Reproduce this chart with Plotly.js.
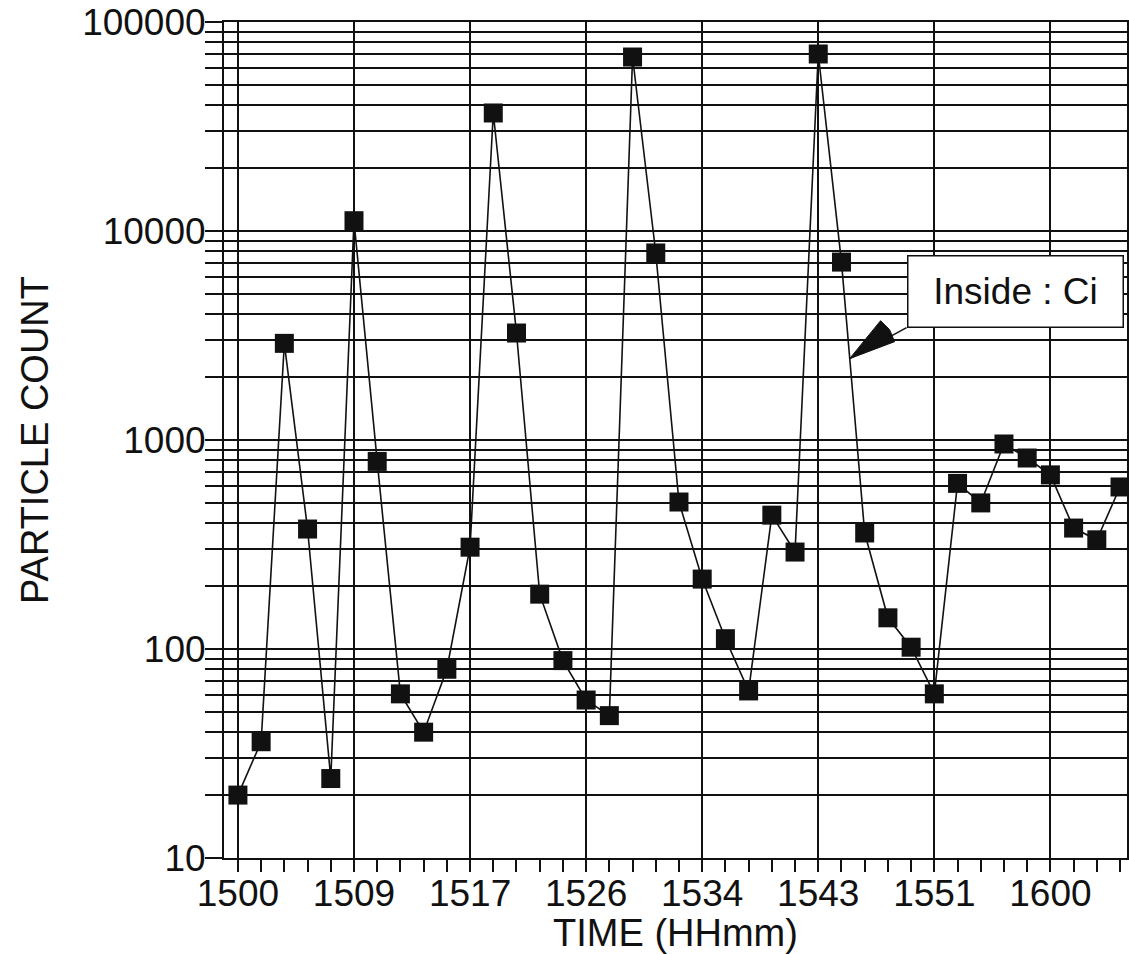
<!DOCTYPE html>
<html>
<head>
<meta charset="utf-8">
<script src="https://cdn.plot.ly/plotly-3.0.1.min.js"></script>
<style>html,body{margin:0;padding:0;background:#fff;}#chart{width:1129px;height:954px;}</style>
</head>
<body>
<div id="chart"></div>
<script>
// Particle counts, one per sample (samples evenly spaced between the labelled times)
const particleCount = [20, 36, 2900, 375, 24, 11200, 790, 61, 40, 80, 307, 36700, 3250, 183, 88, 57, 48, 68000, 7850, 505, 216, 112, 63, 437, 291, 70300, 7100, 359, 141, 102, 61, 620, 500, 957, 820, 681, 379, 333, 596];
const sampleIndex = particleCount.map((_, i) => i);
// x tick labels (every 5th sample)
const timeTickPos = [0, 5, 10, 15, 20, 25, 30, 35];
const timeTickLabels = ['1500', '1509', '1517', '1526', '1534', '1543', '1551', '1600'];
// y tick labels
const countTickVals = [10, 100, 1000, 10000, 100000];
const countTickLabels = ['10', '100', '1000', '10000', '100000'];
// annotation
const noteText = 'Inside : Ci';
const noteTipX = 26.35;
const noteTipY = 2450;

const minorVals = [];
for (let k = 1; k < 5; k++) for (let m = 2; m <= 9; m++) minorVals.push(m * Math.pow(10, k));

const FONT = 'Liberation Sans, Arial, Helvetica, sans-serif';
const INK = '#111';

const trace = {
  x: sampleIndex,
  y: particleCount,
  type: 'scatter',
  mode: 'lines+markers',
  line: {color: INK, width: 1.6},
  marker: {symbol: 'square', size: 19, color: INK},
  hoverinfo: 'x+y',
  cliponaxis: false
};

const layout = {
  width: 1129, height: 954,
  margin: {l: 224, r: 2, t: 22, b: 96},
  paper_bgcolor: '#fff', plot_bgcolor: '#fff',
  showlegend: false,
  font: {family: FONT, color: INK, size: 37},
  xaxis: {
    type: 'linear',
    range: [-0.6, 38.3],
    tickmode: 'array', tickvals: timeTickPos, ticktext: timeTickLabels,
    ticks: 'outside', ticklen: 12, tickwidth: 2, tickcolor: INK,
    ticklabelstandoff: -10,
    showgrid: true, gridcolor: INK, gridwidth: 2,
    showline: true, linecolor: INK, linewidth: 2, mirror: true,
    zeroline: false,
    tickfont: {family: FONT, size: 37, color: INK},
    minor: {tickmode: 'linear', tick0: 0, dtick: 1, ticks: 'outside', ticklen: 12, tickwidth: 2, tickcolor: INK, showgrid: false},
    title: {text: 'TIME (HHmm)', font: {family: FONT, size: 38, color: INK}, standoff: 2}
  },
  yaxis: {
    type: 'log',
    range: [1, 5],
    tickmode: 'array', tickvals: countTickVals, ticktext: countTickLabels,
    ticks: 'outside', ticklen: 17, tickwidth: 2, tickcolor: INK,
    ticklabelstandoff: -8,
    ticklabeloverflow: 'allow',
    showgrid: true, gridcolor: INK, gridwidth: 2,
    showline: true, linecolor: INK, linewidth: 2, mirror: true,
    zeroline: false,
    tickfont: {family: FONT, size: 37, color: INK},
    minor: {tickmode: 'array', tickvals: minorVals, ticks: 'outside', ticklen: 17, tickwidth: 2, tickcolor: INK, showgrid: true, gridcolor: INK, gridwidth: 2},
    title: {text: 'PARTICLE COUNT', font: {family: FONT, size: 38, color: INK}, standoff: 22}
  },
  annotations: [{
    x: noteTipX, y: Math.log10(noteTipY), xref: 'x', yref: 'y',
    text: noteText,
    font: {family: FONT, size: 37, color: INK},
    showarrow: true, arrowhead: 0, arrowwidth: 1.5, arrowcolor: INK,
    ax: 57, ay: -31,
    xanchor: 'left', yanchor: 'bottom',
    width: 212, height: 68,
    bgcolor: '#fff', bordercolor: INK, borderwidth: 1.5, borderpad: 1
  }],
  shapes: [{
    type: 'path', xref: 'x', yref: 'y',
    xsizemode: 'pixel', ysizemode: 'pixel',
    xanchor: noteTipX, yanchor: noteTipY,
    path: 'M0,0 L31,38 L40,29 L45,17 Z',
    fillcolor: INK, line: {color: INK, width: 1}
  }]
};

Plotly.newPlot('chart', [trace], layout, {displayModeBar: false, staticPlot: true});
</script>
</body>
</html>
